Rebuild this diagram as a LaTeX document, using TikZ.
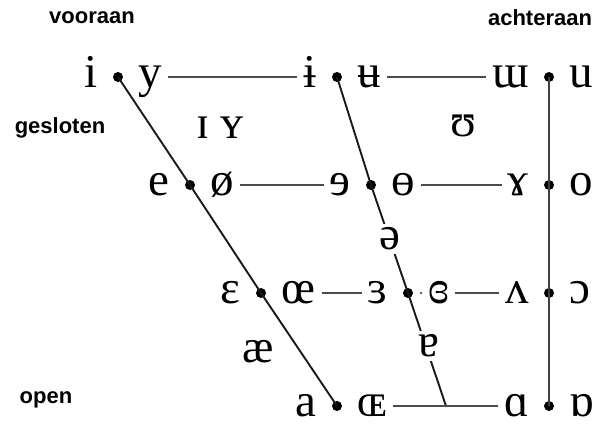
\documentclass[tikz,border=0pt]{standalone}
\usepackage{fontspec}
\setmainfont{Liberation Serif}
\newfontfamily\vowelfont{Liberation Serif}
\newfontfamily\labelfont{Liberation Sans}
\usetikzlibrary{positioning}
\tikzset{
  vowel/.style={font=\vowelfont\fontsize{47}{49}\selectfont,inner sep=0pt,
    text height=24pt,text depth=3pt},
  vowel-mid/.style={font=\vowelfont\fontsize{47}{49}\selectfont,inner sep=4pt,fill=white},
  vdot/.style={circle,fill=black,inner sep=0pt,minimum size=10pt},
  tinydot/.style={circle,fill=black!70,inner sep=0pt,minimum size=2.5pt},
  axis-label/.style={font=\labelfont\bfseries\fontsize{22}{24}\selectfont,inner sep=0pt},
  line-slant/.style={line width=1.9pt,draw=black!90},
  line-back/.style={line width=1.6pt,draw=black!75},
  line-hor/.style={line width=1.2pt,draw=black!70,shorten <=6pt,shorten >=6pt},
}
\begin{document}
\begin{tikzpicture}[x=1pt,y=-1pt,node distance=15pt]
  \useasboundingbox (0,0) rectangle (601,423);

  % the dots of the trapezium
  \node[vdot] (f1) at (118,77) {};
  \node[vdot] (f2) at (190,185) {};
  \node[vdot] (f3) at (261,293) {};
  \node[vdot] (f4) at (337,406) {};
  \node[vdot] (c1) at (337,77) {};
  \node[vdot] (c2) at (371,185) {};
  \node[vdot] (c3) at (408,293) {};
  \coordinate (c4) at (446,406);
  \node[vdot] (b1) at (549,77) {};
  \node[vdot] (b2) at (549,185) {};
  \node[vdot] (b3) at (549,293) {};
  \node[vdot] (b4) at (549,406) {};
  \node[tinydot] (c3r) at (421,293) {};

  \draw[line-slant] (f1.center) -- (f2.center) -- (f3.center) -- (f4.center);
  \draw[line-slant] (c1.center) -- (c2.center)
    -- node[vowel-mid] (schwa) {ə} (c3.center)
    -- node[vowel-mid,pos=.47,xshift=3pt] (turna) {ɐ} (c4);
  \draw[line-back] (b1.center) -- (b4.center);

  % gesloten
  \node[vowel,left=of f1] (i) {i};
  \node[vowel,right=of f1] (y) {y};
  \node[vowel,left=of c1] (ibar) {ɨ};
  \node[vowel,right=of c1] (ubar) {ʉ};
  \node[vowel,left=of b1] (turnm) {ɯ};
  \node[vowel,right=of b1] (u) {u};
  % halfgesloten
  \node[vowel,left=of f2] (e) {e};
  \node[vowel,right=of f2] (oslash) {ø};
  \node[vowel,left=of c2] (reve) {ɘ};
  \node[vowel,right=of c2] (baro) {ɵ};
  \node[vowel,left=of b2] (ramshorn) {ɤ};
  \node[vowel,right=of b2] (o) {o};
  % halfopen
  \node[vowel,left=of f3] (eps) {ɛ};
  \node[vowel,right=of f3] (oe) {œ};
  \node[vowel,left=of c3] (reveps) {ɜ};
  \node[vowel,right=of c3] (closedeps) {ɞ};
  \node[vowel,left=of b3] (turnv) {ʌ};
  \node[vowel,right=of b3] (openo) {ɔ};
  % open
  \node[vowel,left=of f4] (a) {a};
  \node[vowel,right=of f4] (OE) {ɶ};
  \node[vowel,left=of b4] (scripta) {ɑ};
  \node[vowel,right=of b4] (turnscripta) {ɒ};

  \node[vowel] (smallIY) at (220,128) {ɪ ʏ};
  \node[vowel] (upsilon) at (463,126) {ʊ};
  \node[vowel] (ae) at (258,352) {æ};

  \draw[line-hor] (y) -- (ibar);
  \draw[line-hor] (ubar) -- (turnm);
  \draw[line-hor] (oslash) -- (reve);
  \draw[line-hor] (baro) -- (ramshorn);
  \draw[line-hor] (oe) -- (reveps);
  \draw[line-hor] (closedeps) -- (turnv);
  \draw[line-hor] (OE) -- (scripta);

  \node[axis-label] (front) at (92,18) {vooraan};
  \node[axis-label] (back) at (540,18) {achteraan};
  \node[axis-label] (closed) at (60,128) {gesloten};
  \node[axis-label] (opn) at (46,400) {open};
\end{tikzpicture}
\end{document}
